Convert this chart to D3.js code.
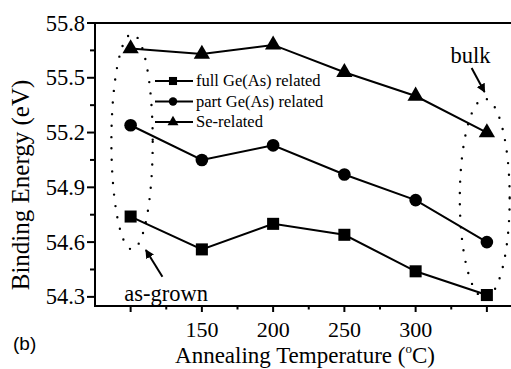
<!DOCTYPE html>
<html>
<head>
<meta charset="utf-8">
<script src="https://cdn.jsdelivr.net/npm/d3@7"></script>
<style>
  body { margin: 0; background: white; }
</style>
</head>
<body>
<div id="chart"></div>
<script>
// annealing temperature (first point = as-grown, last = bulk)
const temps = [100, 150, 200, 250, 300, 350];
const fullGeAs = [54.74, 54.56, 54.70, 54.64, 54.44, 54.31];
const partGeAs = [55.24, 55.05, 55.13, 54.97, 54.83, 54.60];
const seRelated = [55.66, 55.63, 55.68, 55.53, 55.40, 55.20];

const seriesNames = ["full Ge(As) related", "part Ge(As) related", "Se-related"];
const xTickLabels = [150, 200, 250, 300];
const yTickLabels = [54.3, 54.6, 54.9, 55.2, 55.5, 55.8];

const W = 511, H = 369;
const margin = {top: 23, left: 95, bottom: 63};
const SERIF = "'Liberation Serif', 'Times New Roman', Times, serif";

const svg = d3.select("#chart")
    .append("svg")
    .attr("width", W)
    .attr("height", H)
    .style("font-family", SERIF);

const x = d3.scaleLinear()
    .domain([75, 375])
    .range([margin.left, margin.left + 300 * 1.425]);

const y = d3.scaleLinear()
    .domain([54.25, 55.8])
    .range([H - margin.bottom, margin.top]);

// frame (right edge falls outside the picture)
svg.append("path")
    .attr("d", `M${x(375)},${y(55.8)}H${x(75)}V${y(54.25)}H${x(375)}`)
    .attr("fill", "none")
    .attr("stroke", "black")
    .attr("stroke-width", 2);

// x ticks
const xMajor = d3.range(100, 351, 50);
const xMinor = d3.range(125, 376, 50);
svg.append("g").selectAll("line").data(xMajor).enter().append("line")
    .attr("x1", d => x(d)).attr("x2", d => x(d))
    .attr("y1", y(54.25)).attr("y2", y(54.25) + 6)
    .attr("stroke", "black").attr("stroke-width", 2);
svg.append("g").selectAll("line").data(xMinor).enter().append("line")
    .attr("x1", d => x(d)).attr("x2", d => x(d))
    .attr("y1", y(54.25)).attr("y2", y(54.25) + 3.5)
    .attr("stroke", "black").attr("stroke-width", 2);
svg.append("g").selectAll("text").data(xTickLabels).enter().append("text")
    .attr("x", d => x(d))
    .attr("y", y(54.25) + 31)
    .attr("text-anchor", "middle")
    .attr("font-size", 22)
    .text(d => d);

// y ticks
const yMinor = d3.range(54.45, 55.8, 0.3);
svg.append("g").selectAll("line").data(yTickLabels).enter().append("line")
    .attr("x1", x(75) - 8).attr("x2", x(75))
    .attr("y1", d => y(d)).attr("y2", d => y(d))
    .attr("stroke", "black").attr("stroke-width", 2);
svg.append("g").selectAll("line").data(yMinor).enter().append("line")
    .attr("x1", x(75) - 5).attr("x2", x(75))
    .attr("y1", d => y(d)).attr("y2", d => y(d))
    .attr("stroke", "black").attr("stroke-width", 2);
svg.append("g").selectAll("text").data(yTickLabels).enter().append("text")
    .attr("x", x(75) - 10)
    .attr("y", d => y(d) + 7.5)
    .attr("text-anchor", "end")
    .attr("font-size", 22.5)
    .text(d => d.toFixed(1));

// axis titles
const xt = svg.append("text")
    .attr("x", 305)
    .attr("y", 363)
    .attr("text-anchor", "middle")
    .attr("font-size", 23);
xt.append("tspan").text("Annealing Temperature (");
xt.append("tspan").attr("font-size", 13).attr("dy", -10).text("o");
xt.append("tspan").attr("dy", 10).text("C)");

svg.append("text")
    .attr("transform", "translate(29,185) rotate(-90)")
    .attr("text-anchor", "middle")
    .attr("font-size", 25)
    .text("Binding Energy (eV)");

svg.append("text")
    .attr("x", 13)
    .attr("y", 350)
    .style("font-family", "'Liberation Sans', Arial, sans-serif")
    .attr("font-size", 19)
    .text("(b)");

// dotted ellipses (as-grown and bulk)
const ellipses = [
    {cx: 101, cy: 55.15, rx: 14.5, ry: 0.59},
    {cx: 348.5, cy: 54.84, rx: 17.5, ry: 0.545}
];
svg.append("g").selectAll("ellipse").data(ellipses).enter().append("ellipse")
    .attr("cx", d => x(d.cx))
    .attr("cy", d => y(d.cy))
    .attr("rx", d => x(d.cx + d.rx) - x(d.cx))
    .attr("ry", d => y(d.cy - d.ry) - y(d.cy))
    .attr("fill", "none")
    .attr("stroke", "black")
    .attr("stroke-width", 2.4)
    .attr("stroke-linecap", "round")
    .attr("stroke-dasharray", "0 11.5");

// arrows + labels
svg.append("defs").append("marker")
    .attr("id", "ah")
    .attr("viewBox", "0 0 10 10")
    .attr("refX", 9).attr("refY", 5)
    .attr("markerWidth", 9).attr("markerHeight", 9)
    .attr("markerUnits", "userSpaceOnUse")
    .attr("orient", "auto")
    .append("path")
    .attr("d", "M0,0L10,5L0,10z")
    .attr("fill", "black");

const arrows = [
    {x1: 122.3, y1: 54.41, x2: 110.7, y2: 54.557},
    {x1: 339.3, y1: 55.554, x2: 348.4, y2: 55.422}
];
svg.append("g").selectAll("line").data(arrows).enter().append("line")
    .attr("x1", d => x(d.x1)).attr("y1", d => y(d.y1))
    .attr("x2", d => x(d.x2)).attr("y2", d => y(d.y2))
    .attr("stroke", "black")
    .attr("stroke-width", 2)
    .attr("marker-end", "url(#ah)");

svg.append("text")
    .attr("x", x(124.9)).attr("y", y(54.3) + 4)
    .attr("text-anchor", "middle")
    .attr("font-size", 22.5)
    .text("as-grown");
svg.append("text")
    .attr("x", x(338.6)).attr("y", y(55.58))
    .attr("text-anchor", "middle")
    .attr("font-size", 22.5)
    .text("bulk");

// series
const series = [
    {name: seriesNames[0], values: fullGeAs, sym: d3.symbolSquare, size: 145},
    {name: seriesNames[1], values: partGeAs, sym: d3.symbolCircle, size: 125},
    {name: seriesNames[2], values: seRelated, sym: d3.symbolTriangle, size: 115}
];

const line = d3.line()
    .x((d, i) => x(temps[i]))
    .y(d => y(d));

series.forEach(s => {
    svg.append("path")
        .datum(s.values)
        .attr("d", line)
        .attr("fill", "none")
        .attr("stroke", "black")
        .attr("stroke-width", 2);
    svg.append("g").selectAll("path").data(s.values).enter().append("path")
        .attr("d", d3.symbol().type(s.sym).size(s.size))
        .attr("transform", (d, i) => "translate(" + x(temps[i]) + "," + y(d) + ")")
        .attr("fill", "black");
});

// legend
const legend = svg.append("g").attr("transform", "translate(155,81)");
const rows = legend.selectAll("g").data(series).enter().append("g")
    .attr("transform", (d, i) => "translate(0," + (i * 20.5) + ")");
rows.append("line")
    .attr("x1", 0).attr("x2", 38)
    .attr("stroke", "black").attr("stroke-width", 2);
rows.append("path")
    .attr("d", d => d3.symbol().type(d.sym).size(d.size * 0.45)())
    .attr("transform", "translate(18,0)")
    .attr("fill", "black");
rows.append("text")
    .attr("x", 41)
    .attr("y", 5)
    .attr("font-size", 16.5)
    .text(d => d.name);
</script>
</body>
</html>
